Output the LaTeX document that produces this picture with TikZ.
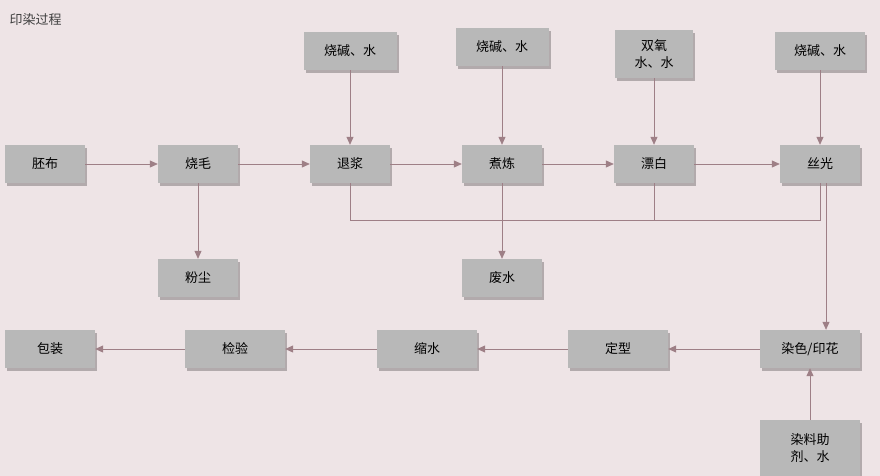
\documentclass[tikz,border=0pt]{standalone}
\usepackage{fontspec}
\setmainfont{Noto Sans CJK SC}
\usetikzlibrary{shadows,arrows.meta}
\definecolor{bg}{HTML}{EEE4E6}
\definecolor{boxc}{HTML}{B8B8B8}
\definecolor{ln}{HTML}{9E7F86}
\tikzset{
 bx/.style={fill=boxc,draw=none,minimum width=80pt,minimum height=38pt,inner sep=0pt,align=center,font=\fontsize{13pt}{17pt}\selectfont,drop shadow={shadow xshift=2pt,shadow yshift=-3pt,opacity=0.25,fill=black}},
 ar/.style={draw=ln,line width=0.8pt,-{Triangle[length=8pt,width=7pt]}},
 pl/.style={draw=ln,line width=0.8pt}
}
\begin{document}
\begin{tikzpicture}[x=1pt,y=-1pt]
\path[fill=bg] (0,0) rectangle (880,476);
\useasboundingbox (0,0) rectangle (880,476);
\node[anchor=west,font=\fontsize{13pt}{15pt}\selectfont,text=black!75] (title) at (6,20) {印染过程};
\node[bx] (pb) at (45,164) {胚布};
\node[bx] (sm) at (198,164) {烧毛};
\node[bx] (tj) at (350,164) {退浆};
\node[bx] (zl) at (502,164) {煮炼};
\node[bx] (pbai) at (654,164) {漂白};
\node[bx] (sg) at (820,164) {丝光};
\node[bx,minimum width=93pt] (t1) at (350,51) {烧碱、水};
\node[bx,minimum width=93pt] (t2) at (502,47) {烧碱、水};
\node[bx,minimum width=78pt,minimum height=48pt] (t3) at (654,54) {双氧\\水、水};
\node[bx,minimum width=90pt] (t4) at (820,51) {烧碱、水};
\node[bx] (fc) at (198,278) {粉尘};
\node[bx] (fs) at (502,278) {废水};
\node[bx,minimum width=90pt] (bz) at (50,349) {包装};
\node[bx,minimum width=100pt] (jy) at (235,349) {检验};
\node[bx,minimum width=100pt] (ss) at (427,349) {缩水};
\node[bx,minimum width=100pt] (dx) at (618,349) {定型};
\node[bx,minimum width=100pt] (rs) at (810,349) {染色/印花};
\node[bx,minimum width=100pt,minimum height=56pt] (rl) at (810,448) {染料助\\剂、水};
\coordinate (m1) at (350,220);
\coordinate (m2) at (654,220);
\coordinate (m3) at (820,220);
\draw[ar] (pb) -- (sm);
\draw[ar] (sm) -- (tj);
\draw[ar] (tj) -- (zl);
\draw[ar] (zl) -- (pbai);
\draw[ar] (pbai) -- (sg);
\draw[ar] (t1) -- (tj);
\draw[ar] (t2) -- (zl);
\draw[ar] (t3) -- (pbai);
\draw[ar] (t4) -- (sg);
\draw[ar] (sm) -- (fc);
\draw[ar] (zl) -- (fs);
\draw[pl] (tj.south) -- (m1) -- (m3) -- (sg.south);
\draw[pl] (pbai.south) -- (m2);
\draw[ar] (sg.south -| 826,0) -- (rs.north -| 826,0);
\draw[ar] (rs) -- (dx);
\draw[ar] (dx) -- (ss);
\draw[ar] (ss) -- (jy);
\draw[ar] (jy) -- (bz);
\draw[ar] (rl) -- (rs);
\end{tikzpicture}
\end{document}
